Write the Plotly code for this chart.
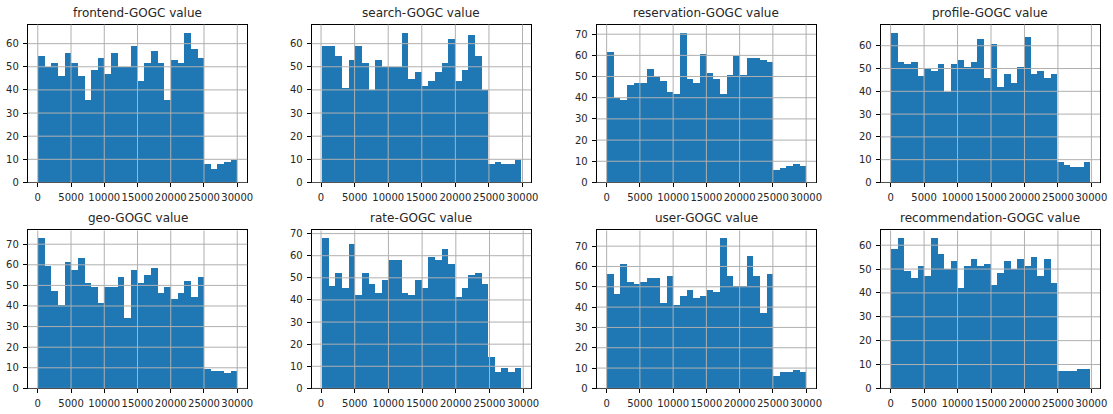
import plotly.graph_objects as go

titles = ["frontend-GOGC value", "search-GOGC value", "reservation-GOGC value", "profile-GOGC value",
          "geo-GOGC value", "rate-GOGC value", "user-GOGC value", "recommendation-GOGC value"]

frontend = [55, 50, 52, 46, 56, 52, 46, 36, 49, 54, 47, 56, 50, 50, 59, 44, 52, 57, 52, 36, 53, 52, 65, 58, 54,
            8, 6, 8, 9, 10]
search = [59, 59, 55, 41, 53, 59, 52, 40, 53, 50, 50, 50, 65, 45, 48, 42, 44, 48, 52, 62, 44, 49, 64, 55, 40,
          8, 9, 8, 8, 10]
reservation = [62, 40, 39, 46, 47, 47, 54, 50, 48, 43, 42, 71, 49, 47, 61, 52, 49, 42, 51, 60, 51, 59, 59, 58, 57,
               6, 7, 8, 9, 8]
profile = [66, 53, 52, 53, 47, 50, 49, 52, 40, 52, 54, 51, 53, 63, 46, 61, 42, 48, 44, 51, 64, 48, 49, 46, 48,
           9, 8, 7, 7, 9]
geo = [73, 59, 47, 40, 61, 57, 63, 51, 49, 41, 49, 49, 54, 34, 57, 51, 55, 58, 46, 49, 43, 46, 52, 44, 54,
       9, 8, 8, 7, 8]
rate = [68, 46, 52, 45, 65, 42, 52, 47, 43, 49, 58, 58, 43, 42, 49, 45, 59, 58, 63, 56, 41, 45, 51, 52, 47,
        14, 7, 9, 7, 9]
user = [56, 46, 61, 52, 51, 52, 54, 54, 42, 55, 41, 45, 48, 44, 45, 48, 47, 74, 55, 50, 50, 65, 55, 37, 56,
        6, 8, 8, 9, 8]
recommendation = [58, 63, 49, 46, 51, 47, 63, 56, 50, 53, 42, 51, 54, 51, 52, 43, 48, 53, 50, 54, 51, 55, 47, 54, 44,
                  7, 7, 7, 8, 8]

# data min / max of each column (histogram spans these with 30 bins)
data_min = [0, 100, 0, 0, 0, 100, 0, 0]
data_max = [30000, 29800, 30000, 29800, 30000, 29700, 30000, 29800]

x_ticks = [0, 5000, 10000, 15000, 20000, 25000, 30000]

series = [frontend, search, reservation, profile, geo, rate, user, recommendation]

W, H = 1113, 414
col_left = [28, 314, 601, 887]
ax_w = 221
row_top = [23, 233]
ax_h = 161

grid_color = "#b0b0b0"
fig = go.Figure()
shapes = []
annotations = []

for i, (counts, title) in enumerate(zip(series, titles)):
    r, c = divmod(i, 4)
    n = len(counts)
    lo, hi = data_min[i], data_max[i]
    bw = (hi - lo) / n
    centers = [lo + bw * (k + 0.5) for k in range(n)]
    ax = "" if i == 0 else str(i + 1)
    fig.add_trace(go.Bar(x=centers, y=counts, width=[bw] * n, marker=dict(color="#1f77b4", line=dict(width=0)),
                         xaxis="x" + ax, yaxis="y" + ax, showlegend=False, hoverinfo="x+y"))
    span = hi - lo
    xr = [lo - 0.05 * span, hi + 0.05 * span]
    ymax = max(counts) * 1.05
    step = 10
    yt = list(range(0, int(ymax) + 1, step))
    x0 = col_left[c] / W
    x1 = (col_left[c] + ax_w) / W
    y1 = 1 - row_top[r] / H
    y0 = 1 - (row_top[r] + ax_h) / H
    axis_common = dict(showline=True, linecolor="black", linewidth=1, mirror=True, ticks="outside",
                       ticklen=4, tickcolor="black", tickwidth=1, showgrid=False, zeroline=False,
                       tickfont=dict(family="DejaVu Sans", size=10, color="#262626"), fixedrange=True,
                       tickangle=0, ticklabelstandoff=2)
    fig.update_layout(**{
        "xaxis" + ax: dict(domain=[x0, x1], range=xr, anchor="y" + ax, tickvals=x_ticks,
                           ticktext=[str(t) for t in x_ticks], **axis_common),
        "yaxis" + ax: dict(domain=[y0, y1], range=[0, ymax], anchor="x" + ax, tickvals=yt, **axis_common),
    })
    xref = "x" + ax
    yref = "y" + ax
    for t in x_ticks:
        shapes.append(dict(type="line", xref=xref, yref=yref + " domain", x0=t, x1=t, y0=0, y1=1,
                           line=dict(color=grid_color, width=1), layer="above"))
    for t in yt:
        shapes.append(dict(type="line", xref=xref + " domain", yref=yref, x0=0, x1=1, y0=t, y1=t,
                           line=dict(color=grid_color, width=1), layer="above"))
    annotations.append(dict(text=title, xref="paper", yref="paper", x=(x0 + x1) / 2, y=y1,
                            xanchor="center", yanchor="bottom", yshift=3, showarrow=False,
                            font=dict(family="DejaVu Sans", size=12, color="#262626")))

fig.update_layout(width=W, height=H, margin=dict(l=0, r=0, t=0, b=0), bargap=0,
                  plot_bgcolor="white", paper_bgcolor="white", shapes=shapes, annotations=annotations,
                  showlegend=False)
fig.write_html("out.html")
